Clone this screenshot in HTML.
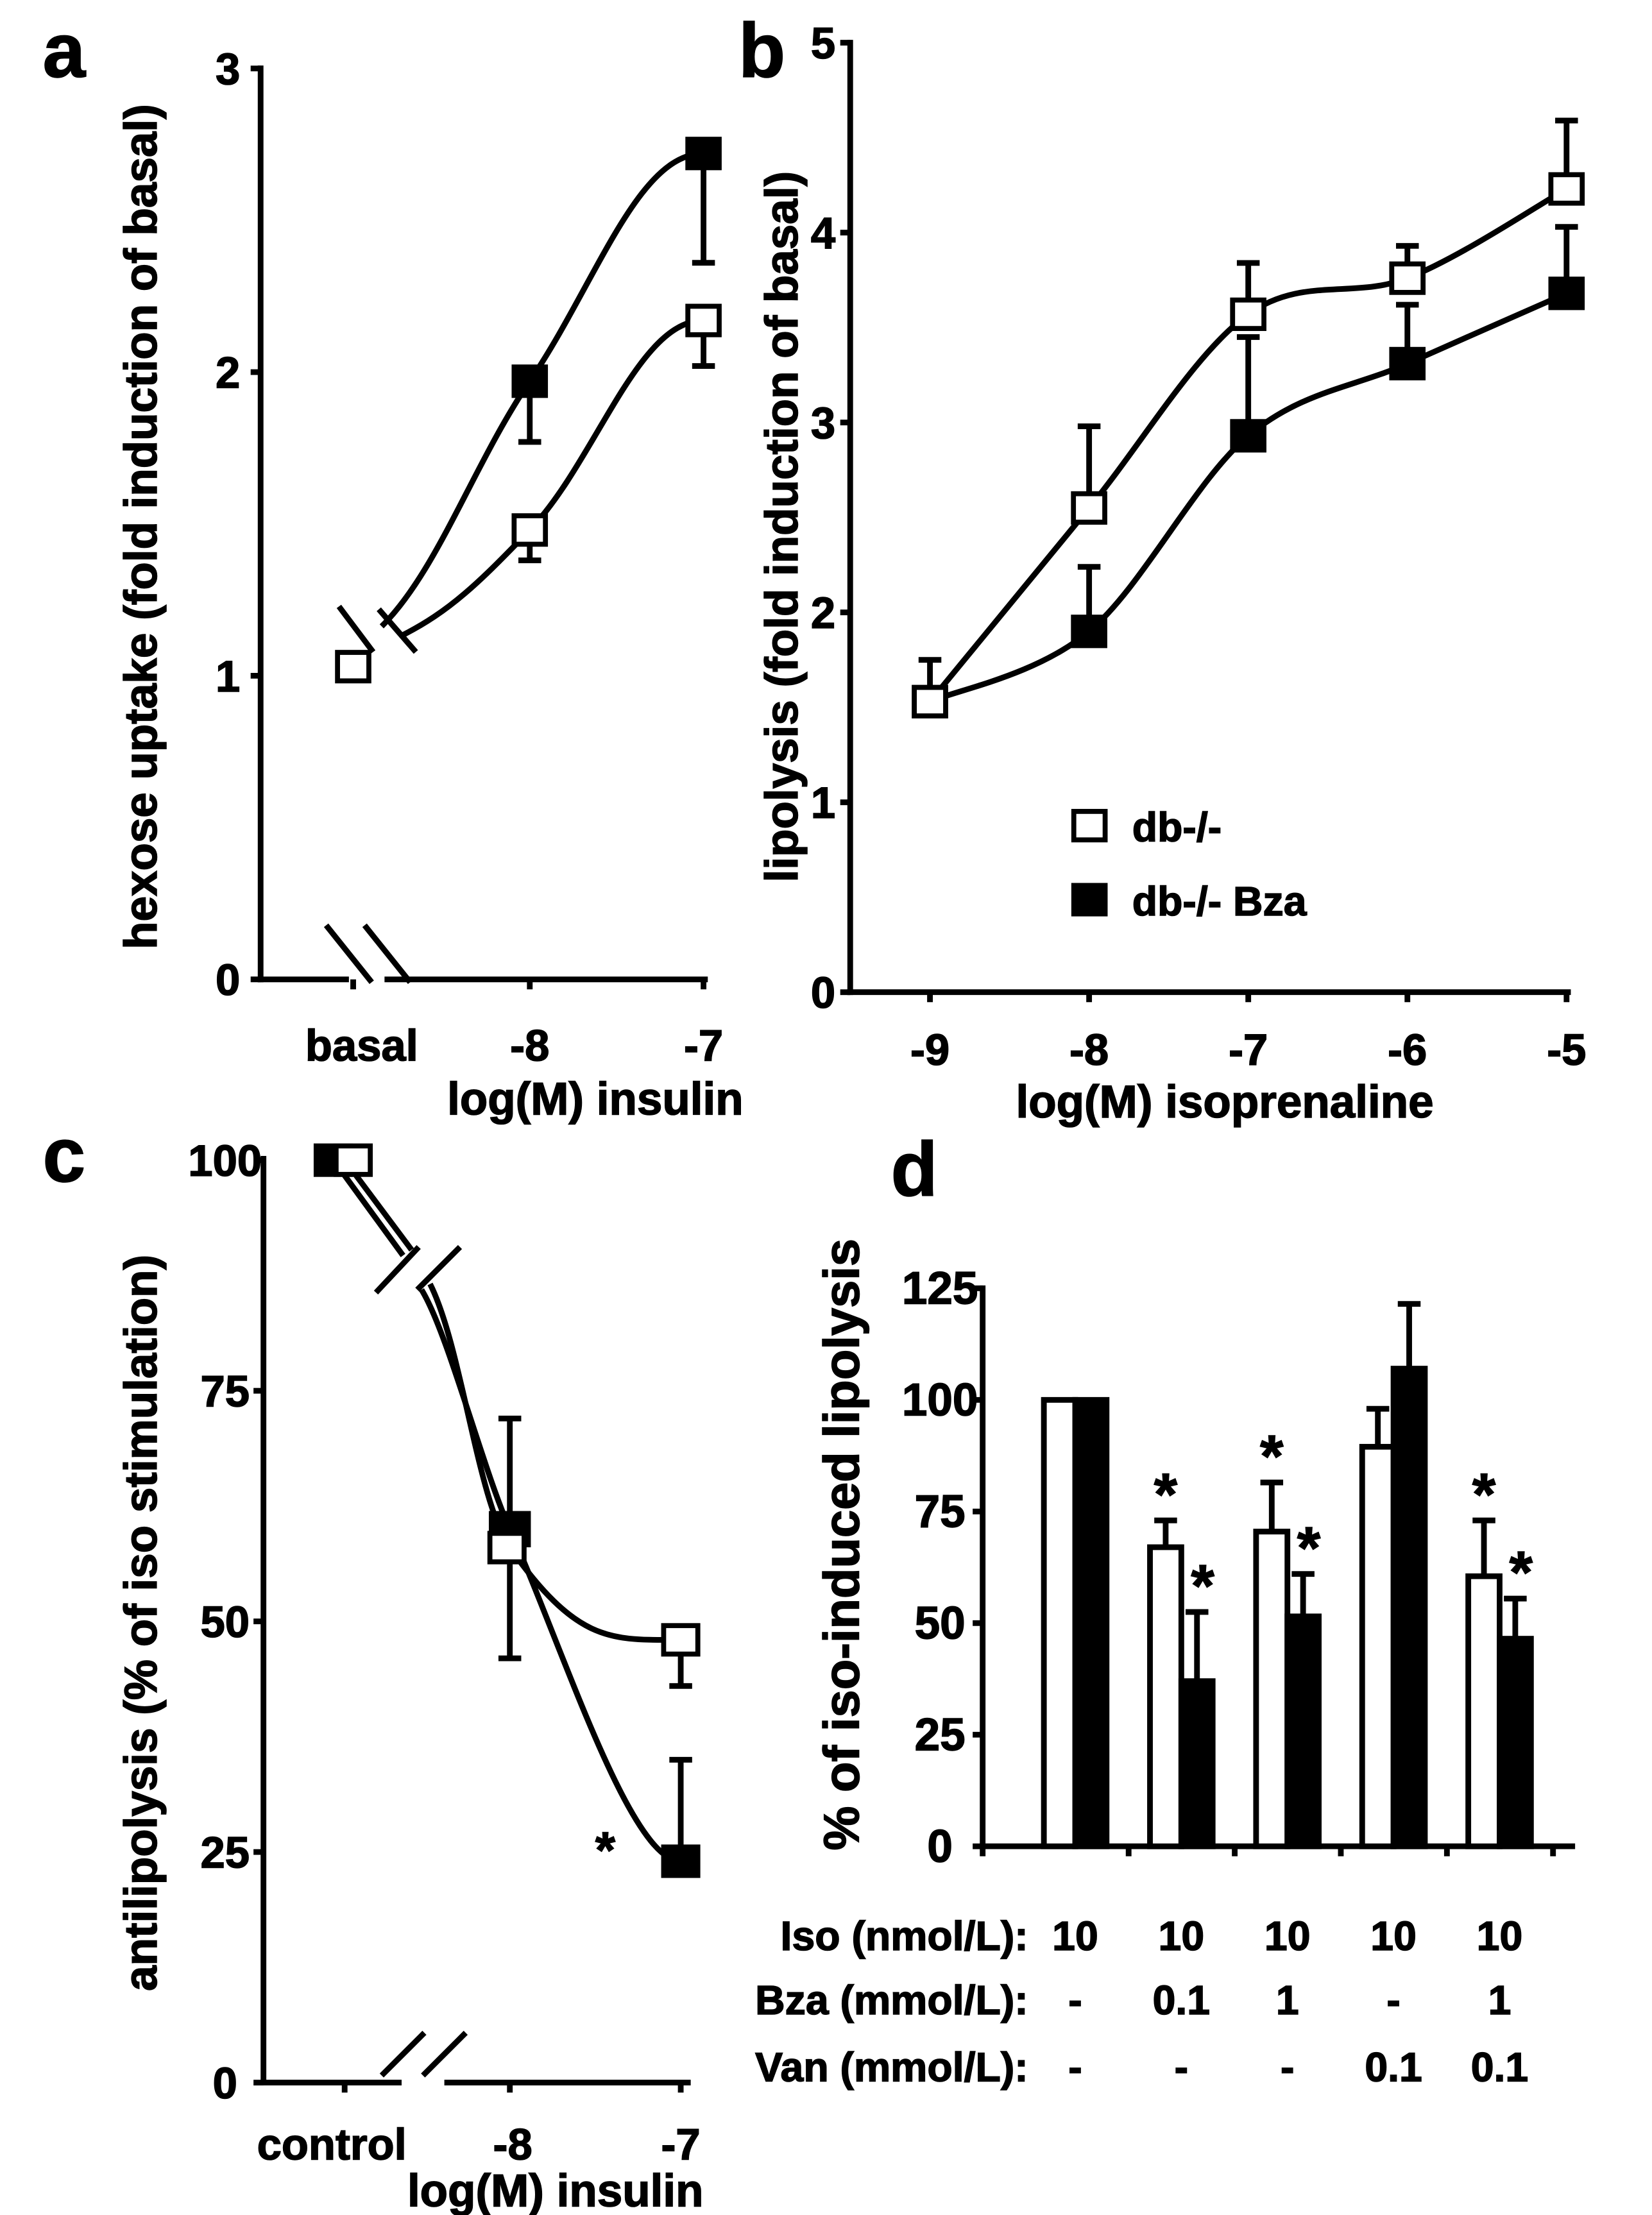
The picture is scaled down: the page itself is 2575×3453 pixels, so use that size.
<!DOCTYPE html>
<html><head><meta charset="utf-8"><style>
html,body{margin:0;padding:0;background:#fff}
svg{display:block}
text{font-family:"Liberation Sans",sans-serif;font-weight:bold;fill:#000;stroke:#000;stroke-width:0.7}
.nar{font-family:"Liberation Sans Narrow","Liberation Sans",sans-serif}
</style></head><body>
<svg id="fig" width="2575" height="3453" viewBox="0 0 1160 1556" preserveAspectRatio="none" xmlns="http://www.w3.org/2000/svg"></svg>
<script>
// ---- Panel a data ----
const aCats = ['basal','-8','-7'];
const aWhite = [1.03, 1.48, 2.17];
const aWhiteErr = [0, 0.10, 0.15];
const aBlack = [null, 1.97, 2.72];
const aBlackErr = [0, 0.20, 0.36];
const aYTicks = [0,1,2,3];
// ---- Panel b data ----
const bX = [-9,-8,-7,-6,-5];
const bWhite = [1.53, 2.55, 3.57, 3.76, 4.23];
const bWhiteErr = [0.22, 0.43, 0.27, 0.17, 0.36];
const bBlack = [1.53, 1.90, 2.93, 3.31, 3.68];
const bBlackErr = [0, 0.34, 0.52, 0.31, 0.35];
const bYTicks = [0,1,2,3,4,5];
// ---- Panel c data ----
const cCats = ['control','-8','-7'];
const cWhite = [100, 58, 48];
const cWhiteErr = [0, 12, 5];
const cBlack = [100, 60, 24];
const cBlackErr = [0, 12, 11];
const cYTicks = [0,25,50,75,100];
// ---- Panel d data ----
const dWhite = [100, 67, 70.5, 89.5, 60.5];
const dWhiteErr = [0, 6, 11, 8.5, 12.5];
const dBlack = [100, 37, 51.5, 107, 46.5];
const dBlackErr = [0, 15.5, 9.5, 14.5, 9];
const dStarW = [false, true, true, false, true];
const dStarB = [false, true, true, false, true];
const dYTicks = [0,25,50,75,100,125];
const dIso = ['10','10','10','10','10'];
const dBza = ['-','0.1','1','-','1'];
const dVan = ['-','-','-','0.1','0.1'];

const NS='http://www.w3.org/2000/svg';
const svg=document.getElementById('fig');
function mk(tag,attrs,parent){const e=document.createElementNS(NS,tag);for(const k in attrs)e.setAttribute(k,attrs[k]);(parent||svg).appendChild(e);return e;}
function line(x1,y1,x2,y2,w,g){return mk('line',{x1,y1,x2,y2,stroke:'#000','stroke-width':w||4},g);}
function txt(s,x,y,size,anchor,g,cls){const t=mk('text',{x,y,'font-size':size,'text-anchor':anchor||'middle'},g);if(cls)t.setAttribute('class',cls);t.textContent=s;return t;}
function smooth(pts){let d='M'+pts[0][0]+','+pts[0][1];for(let i=0;i<pts.length-1;i++){const p0=pts[i-1]||pts[i],p1=pts[i],p2=pts[i+1],p3=pts[i+2]||p2;const c1x=p1[0]+(p2[0]-p0[0])/6,c1y=p1[1]+(p2[1]-p0[1])/6,c2x=p2[0]-(p3[0]-p1[0])/6,c2y=p2[1]-(p3[1]-p1[1])/6;d+=' C'+c1x+','+c1y+' '+c2x+','+c2y+' '+p2[0]+','+p2[1];}return d;}
// hermite: first point tangent toward next, interior catmull, last point flat
function herm(pts,k){const n=pts.length;const T=pts.map((p,i)=>{if(i==n-1)return [1,0];const a=pts[Math.max(0,i-1)],b=pts[i+1];const dx=b[0]-a[0],dy=b[1]-a[1];return [1,dy/dx*(i==0?0.6:1)];});
let d='M'+pts[0][0]+','+pts[0][1];for(let i=0;i<n-1;i++){const a=pts[i],b=pts[i+1],h=(b[0]-a[0])*(k||0.38);d+=' C'+(a[0]+h)+','+(a[1]+T[i][1]*h)+' '+(b[0]-h)+','+(b[1]-T[i+1][1]*h)+' '+b[0]+','+b[1];}return d;}
function curveD(d,g,name){const p=mk('path',{d,fill:'none',stroke:'#000','stroke-width':4},g);return p;}
function curve(pts,g,name){return curveD(smooth(pts),g,name);}
function marker(x,y,fill,g,name,w,h){w=w||22;h=h||20;const r=mk('rect',{x:x-w/2,y:y-h/2,width:w,height:h,fill:fill,stroke:'#000','stroke-width':3.5},g);return r;}
function err(x,y1,y2,g,name){const gg=mk('g',{},g);line(x,y1,x,y2,4,gg);line(x-8,y2,x+8,y2,4,gg);}
function group(name){const g=mk('g',{});return g;}
function ylabel(s,x,y,size,g,name){const t=mk('text',{x:0,y:0,'font-size':size,'text-anchor':'middle',transform:`translate(${x},${y}) rotate(-90)`},g);t.textContent=s;}

// ================= Panel a =================
{
const g=group('panel-a');
const ya=v=>688-v*213.3; const xa=[248,372,494];
txt('a',45,54,54,'middle',g);
line(183,46,183,690,4,g);
line(181,688,245,688,4,g); line(270,688,497,688,4,g);
aYTicks.forEach(v=>{line(176,ya(v),183,ya(v),4,g);txt(String(v),160,ya(v)+11,31,'middle',g);});
xa.forEach(x=>line(x,688,x,695,4,g));
line(229,650,261,690,4,g); line(256,650,288,690,4,g);
line(238,426,262,458,4,g); line(266,428,292,458,4,g);
aCats.forEach((c,i)=>txt(c,i==0?254:xa[i],745,31,'middle',g));
txt('log(M) insulin',418,783,32,'middle',g);
ylabel('hexose uptake (fold induction of basal)',110,370,32,g,'y-axis-title-a');
curveD(herm([[281,447],[xa[1],ya(aWhite[1])],[xa[2],ya(aWhite[2])]]),g,'curve-a-white');
curveD(herm([[268,440],[xa[1],ya(aBlack[1])],[xa[2],ya(aBlack[2])]]),g,'curve-a-black');
for(let i=1;i<3;i++){err(xa[i],ya(aWhite[i]),ya(aWhite[i]-aWhiteErr[i]),g,'err-a-white');err(xa[i],ya(aBlack[i]),ya(aBlack[i]-aBlackErr[i]),g,'err-a-black');}
aWhite.forEach((v,i)=>marker(xa[i],ya(v),'#fff',g,'point-a-white'));
aBlack.forEach((v,i)=>{if(v!=null)marker(xa[i],ya(v),'#000',g,'point-a-black');});
}
// ================= Panel b =================
{
const g=group('panel-b');
const xb=v=>653+(v+9)*111.75, yb=v=>697-v*133.4;
txt('b',535,54,54,'middle',g);
line(597,28,597,699,4,g); line(595,697,1103,697,4,g);
bYTicks.forEach(v=>{line(590,yb(v),597,yb(v),4,g);txt(String(v),578,yb(v)+11,31,'middle',g);});
bX.forEach(v=>{line(xb(v),697,xb(v),704,4,g);txt(String(v),xb(v),748,31,'middle',g);});
txt('log(M) isoprenaline',860,785,32,'middle',g);
ylabel('lipolysis (fold induction of basal)',560,370,32,g,'y-axis-title-b');
curve(bX.map((v,i)=>[xb(v),yb(bWhite[i])]),g,'curve-b-white');
curve(bX.map((v,i)=>[xb(v),yb(bBlack[i])]),g,'curve-b-black');
bX.forEach((v,i)=>{if(bBlackErr[i])err(xb(v),yb(bBlack[i]),yb(bBlack[i]+bBlackErr[i]),g,'err-b-black');});
bX.forEach((v,i)=>marker(xb(v),yb(bBlack[i]),'#000',g,'point-b-black'));
bX.forEach((v,i)=>err(xb(v),yb(bWhite[i]),yb(bWhite[i]+bWhiteErr[i]),g,'err-b-white'));
bX.forEach((v,i)=>marker(xb(v),yb(bWhite[i]),'#fff',g,'point-b-white'));
const lg=group('legend-b');
marker(765,580,'#fff',lg,'legend-swatch-white'); txt('db-/-',795,591,29,'start',lg);
marker(765,632,'#000',lg,'legend-swatch-black'); txt('db-/- Bza',795,643,29,'start',lg);
}
// ================= Panel c =================
{
const g=group('panel-c');
const yc=v=>1463-v*6.48; const xc=[242,358,478];
txt('c',45,830,54,'middle',g);
line(185,812,185,1465,4,g);
line(183,1463,282,1463,4,g); line(312,1463,485,1463,4,g);
cYTicks.forEach(v=>{line(178,yc(v),185,yc(v),4,g);txt(String(v),158,yc(v)+11,31,'middle',g);});
xc.forEach(x=>line(x,1463,x,1470,4,g));
line(268,1458,298,1428,4,g); line(297,1458,327,1428,4,g);
line(264,908,294,876,4,g); line(293,906,323,876,4,g);
txt('control',233,1517,31,'middle',g); txt('-8',360,1517,31,'middle',g); txt('-7',478,1517,31,'middle',g);
txt('log(M) insulin',390,1550,32,'middle',g);
ylabel('antilipolysis (% of iso stimulation)',110,1140,32,g,'y-axis-title-c');
curve([[248,yc(cWhite[0])+8],[289,878]],g,'curve-c-white-left');
curve([[240,yc(cBlack[0])+8],[283,882]],g,'curve-c-black-left');
curveD(herm([[302,902],[xc[1],yc(cWhite[1])],[xc[2],yc(cWhite[2])]],0.4),g,'curve-c-white');
curveD(herm([[296,906],[xc[1],yc(cBlack[1])],[xc[2],yc(cBlack[2])]],0.3),g,'curve-c-black');
err(xc[1],yc(cBlack[1]),yc(cBlack[1]+cBlackErr[1]),g,'err-c-black');
err(xc[1],yc(cWhite[1]),yc(cWhite[1]-cWhiteErr[1]),g,'err-c-white');
err(xc[2],yc(cWhite[2]),yc(cWhite[2]-cWhiteErr[2]),g,'err-c-white');
err(xc[2],yc(cBlack[2]),yc(cBlack[2]+cBlackErr[2]),g,'err-c-black');
marker(234,yc(cBlack[0]),'#000',g,'point-c-black',24,20);
marker(248,yc(cWhite[0]),'#fff',g,'point-c-white',24,20);
marker(xc[1],yc(cBlack[1]),'#000',g,'point-c-black',26,22);
marker(xc[1]-2,yc(cWhite[1]),'#fff',g,'point-c-white',24,20);
marker(xc[2],yc(cWhite[2]),'#fff',g,'point-c-white',24,20);
marker(xc[2],yc(cBlack[2]),'#000',g,'point-c-black',24,20);
txt('*',425,1312,36,'middle',g);
}
// ================= Panel d =================
{
const g=group('panel-d');
const yd=v=>1297-v*3.136; const cx=i=>755+74.5*i; const bw=22;
txt('d',642,840,54,'middle',g);
line(690,903,690,1299,4,g); line(688,1297,1106,1297,4,g);
dYTicks.forEach(v=>{line(683,yd(v),690,yd(v),4,g);txt(String(v),660,yd(v)+11,32,'middle',g,'nar');});
for(let i=0;i<6;i++){const x=i==0?690:cx(i)-37;line(x,1297,x,1304,4,g);}
ylabel('% of  iso-induced lipolysis',603,1085,35,g,'y-axis-title-d');
dWhite.forEach((v,i)=>{
  if(dWhiteErr[i])err(cx(i)-bw/2,yd(v),yd(v+dWhiteErr[i]),g,'err-d-white');
  if(dBlackErr[i])err(cx(i)+bw/2,yd(dBlack[i]),yd(dBlack[i]+dBlackErr[i]),g,'err-d-black');
});
dWhite.forEach((v,i)=>{
  const r=mk('rect',{x:cx(i)-bw,y:yd(v),width:bw,height:yd(0)-yd(v),fill:'#fff',stroke:'#000','stroke-width':4},g);
  
  
  const b=mk('rect',{x:cx(i),y:yd(dBlack[i]),width:bw,height:yd(0)-yd(dBlack[i]),fill:'#000',stroke:'#000','stroke-width':4},g);
  
  
  if(dStarW[i]){const s=txt('*',cx(i)-bw/2,yd(v+dWhiteErr[i])-4,42,'middle',g);}
  if(dStarB[i]){const s=txt('*',cx(i)+bw/2+4,yd(dBlack[i]+dBlackErr[i])-4,42,'middle',g);}
});
const rows=[['Iso (nmol/L):',dIso,1370],['Bza (mmol/L):',dBza,1415],['Van (mmol/L):',dVan,1462]];
rows.forEach(([lab,vals,y])=>{
  const t=txt(lab,722,y,29,'end',g); 
  vals.forEach((s,i)=>{txt(s,cx(i),y,29,'middle',g,'nar');});
});
}
</script>
</body></html>
